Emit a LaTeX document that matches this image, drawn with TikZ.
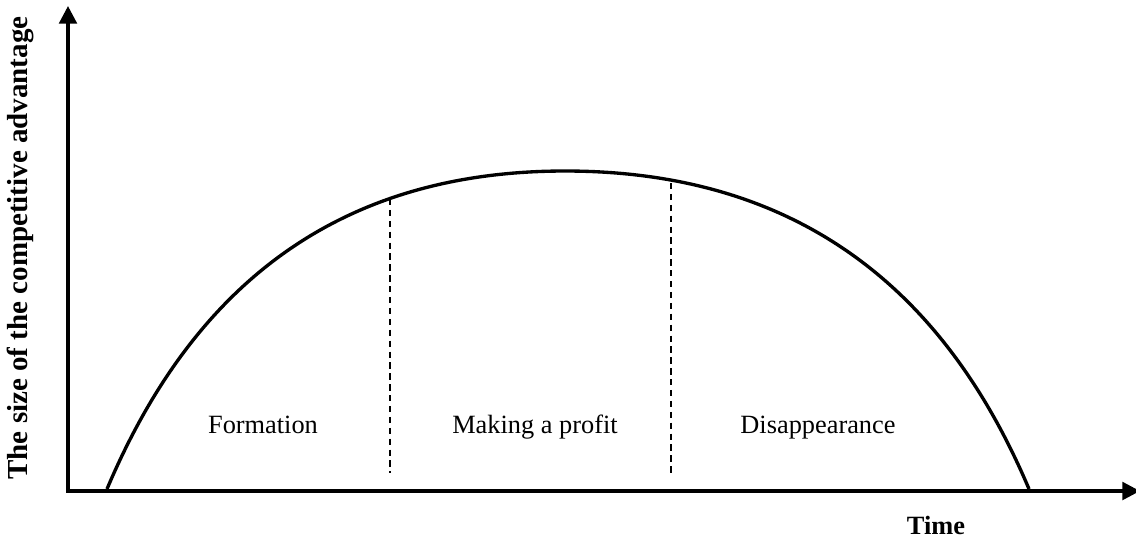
\documentclass[tikz,border=0pt]{standalone}
\usepackage{fontspec}
\setmainfont{Liberation Serif}
\usetikzlibrary{arrows.meta}
\tikzset{
	advantage cycle/.style={
		x=0.02cm,
		y=-0.02cm,
		font=\fontsize{15}{18}\selectfont,
		axis line/.style={
			line width=1.9pt,
			line join=miter,
			{Triangle[length=10pt,width=10pt]}-{Triangle[length=10pt,width=10pt]}
		},
		profile curve/.style={line width=1.9pt},
		phase border/.style={
			line width=1pt,
			dash pattern=on 3.6pt off 2.6pt
		},
		phase label/.style={anchor=base},
		axis label/.style={
			anchor=base,
			font=\fontsize{15}{18}\selectfont\bfseries
		}
	}
}

\begin{document}
\begin{tikzpicture}[advantage cycle]
		\useasboundingbox (0,0) rectangle (1136,542);
		% axes
		\coordinate (origin) at (68,491);
		\coordinate (y tip) at (68,6);
		\coordinate (x tip) at (1140,491);
		\draw[axis line] (y tip) -- (origin) -- (x tip);
		% the curve
		\coordinate (rise) at (107,489);
		\coordinate (peak) at (565,171);
		\coordinate (fall) at (1029,489);
		\draw[profile curve] (rise) .. controls (181,314) and (312,171) .. (peak)
			.. controls (821,171) and (955,314) .. (fall);
		% phase borders
		\coordinate (border1 top) at (390,199);
		\coordinate (border1 foot) at (390,473);
		\coordinate (border2 top) at (671,183);
		\coordinate (border2 foot) at (671,473);
		\draw[phase border] (border1 top) -- (border1 foot);
		\draw[phase border] (border2 top) -- (border2 foot);
		% labels
		\node[phase label] (formation) at (263,433) {Formation};
		\node[phase label] (profit) at (535,433) {Making a profit};
		\node[phase label] (disappearance) at (818,433) {Disappearance};
		\node[axis label] (time) at (936,534) {Time};
		\node[axis label, rotate=90, font=\fontsize{16.5}{20}\selectfont\bfseries] (size) at (28,248) {The size of the competitive advantage};
	\end{tikzpicture}
\end{document}
